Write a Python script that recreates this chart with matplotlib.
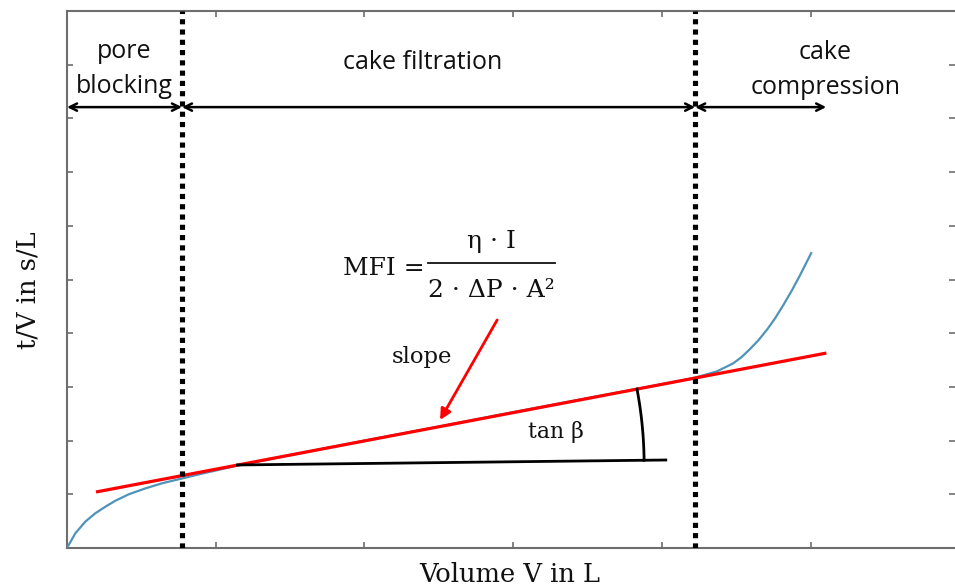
import numpy as np
import matplotlib
matplotlib.use("Agg")
import matplotlib.pyplot as plt

# ---- data ----
curve_x = [0.0, 0.056, 0.123, 0.190, 0.258, 0.325, 0.415, 0.527, 0.639, 0.751, 0.9, 1.14,
           1.5, 2.0, 2.5, 3.0, 3.5, 4.0, 4.22, 4.37, 4.48, 4.537, 4.59, 4.649, 4.71,
           4.761, 4.815, 4.874, 4.93, 5.003]
curve_y = [0.0, 0.274, 0.49, 0.646, 0.769, 0.88, 1.0, 1.11, 1.205, 1.28, 1.38, 1.53,
           1.73, 2.0, 2.26, 2.53, 2.79, 3.05, 3.17, 3.29, 3.44, 3.56, 3.70, 3.87, 4.08,
           4.28, 4.52, 4.80, 5.09, 5.49]
fit_x = [0.195, 5.105]
fit_y = [1.043, 3.63]
base_x = [1.137, 4.035]
base_y = [1.546, 1.639]
slope_arrow_start = (2.892, 4.246)
slope_arrow_end = (2.508, 2.384)
region_bounds = [0.0, 0.773, 4.223, 5.104]
region_arrow_y = 8.21
region_labels = ["pore\nblocking", "cake filtration", "cake\ncompression"]
region_label_x = [0.383, 2.394, 5.097]
region_label_y = [8.92, 9.05, 8.90]
xticks = [0, 1, 2, 3, 4, 5]
yticks = list(range(0, 11))

W, H, DPI = 955, 588, 100
fig = plt.figure(figsize=(W / DPI, H / DPI), dpi=DPI)
L, R, B, T = 67, 955, 548, 11
ax = fig.add_axes([L / W, (H - B) / H, (R - L) / W, (B - T) / H])
ax.set_xlim(0, 5.97)
ax.set_ylim(0, 10)

grey = "#6e6e6e"
for s in ["left", "bottom", "top"]:
    ax.spines[s].set_color(grey)
    ax.spines[s].set_linewidth(1.5)
ax.spines["right"].set_visible(False)
ax.set_xticks(xticks)
ax.set_yticks(yticks)
ax.tick_params(direction="in", length=4, width=1.2, color=grey,
               top=True, right=True, labelbottom=False, labelleft=False)

# curve
ax.plot(curve_x, curve_y, color="#4f93bb", lw=1.6, zorder=3,
        solid_joinstyle="round")
# fitted line
ax.plot(fit_x, fit_y, color="#ff0000", lw=2.3, zorder=4, solid_capstyle="butt")
# horizontal base line
ax.plot(base_x, base_y, color="black", lw=2.0, zorder=4, solid_capstyle="butt")

# dotted separators
for xv in region_bounds[1:3]:
    ax.plot([xv, xv], [0, 10], color="black", lw=3.7, linestyle=(0, (1, 1)),
            dash_capstyle="butt", zorder=5)

# region arrows
for a, b in zip(region_bounds[:-1], region_bounds[1:]):
    ax.annotate("", xy=(b, region_arrow_y), xytext=(a, region_arrow_y),
                arrowprops=dict(arrowstyle="<->", color="black", lw=1.8,
                                shrinkA=0, shrinkB=0, mutation_scale=13))

sans = ["Open Sans", "DejaVu Sans"]
for lab, xv, yv in zip(region_labels, region_label_x, region_label_y):
    ax.text(xv, yv, lab, ha="center", va="center", fontsize=18,
            family=sans, linespacing=1.5, color="#111111")

# slope arrow
ax.annotate("", xy=slope_arrow_end, xytext=slope_arrow_start,
            arrowprops=dict(arrowstyle="-|>", color="#ff0000", lw=2.0,
                            shrinkA=0, shrinkB=0, mutation_scale=16))

# angle arc (drawn in display space so it is a true circle on screen)
fig.canvas.draw()
tr = ax.transData
c_disp = tr.transform((base_x[0], base_y[0]))
e_disp = tr.transform((base_x[1], base_y[1]))
p0 = tr.transform((fit_x[0], fit_y[0]))
p1 = tr.transform((fit_x[1], fit_y[1]))
rad = 408.0
a0 = np.arctan2(e_disp[1] - c_disp[1], e_disp[0] - c_disp[0])
d = p1 - p0
f = p0 - c_disp
qa = d @ d
qb = 2 * f @ d
qc = f @ f - rad ** 2
tt = (-qb + np.sqrt(qb ** 2 - 4 * qa * qc)) / (2 * qa)
ip = p0 + tt * d
a1 = np.arctan2(ip[1] - c_disp[1], ip[0] - c_disp[0])
th = np.linspace(a0, a1, 60)
arc_disp = np.column_stack([c_disp[0] + rad * np.cos(th), c_disp[1] + rad * np.sin(th)])
arc_data = tr.inverted().transform(arc_disp)
ax.plot(arc_data[:, 0], arc_data[:, 1], color="black", lw=2.0, zorder=4)

serif = ["DejaVu Serif"]
tc = "#111111"
# formula built from plain texts and a fraction bar
ax.text(2.405, 5.214, "MFI =", ha="right", va="center", fontsize=18,
        family=serif, color=tc)
ax.plot([2.43, 3.282], [5.307, 5.307], color=tc, lw=1.3)
ax.text(2.856, 5.70, "η · I", ha="center", va="center", fontsize=18,
        family=serif, color=tc)
ax.text(2.856, 4.80, "2 · ΔP · A²", ha="center", va="center", fontsize=18,
        family=serif, color=tc)

ax.text(2.387, 3.557, "slope", ha="center", va="center", fontsize=16.4,
        family=serif, color=tc)
ax.text(3.288, 2.16, "tan β", ha="center", va="center", fontsize=15.8,
        family=serif, color=tc)

fig.text(28 / W, 1 - 290 / H, "t/V in s/L", rotation=90, ha="center", va="center",
         fontsize=18.5, family=serif, color=tc)
fig.text(510 / W, 1 - 574 / H, "Volume V in L", ha="center", va="center",
         fontsize=18.5, family=serif, color=tc)

fig.savefig("out.png", dpi=DPI)
